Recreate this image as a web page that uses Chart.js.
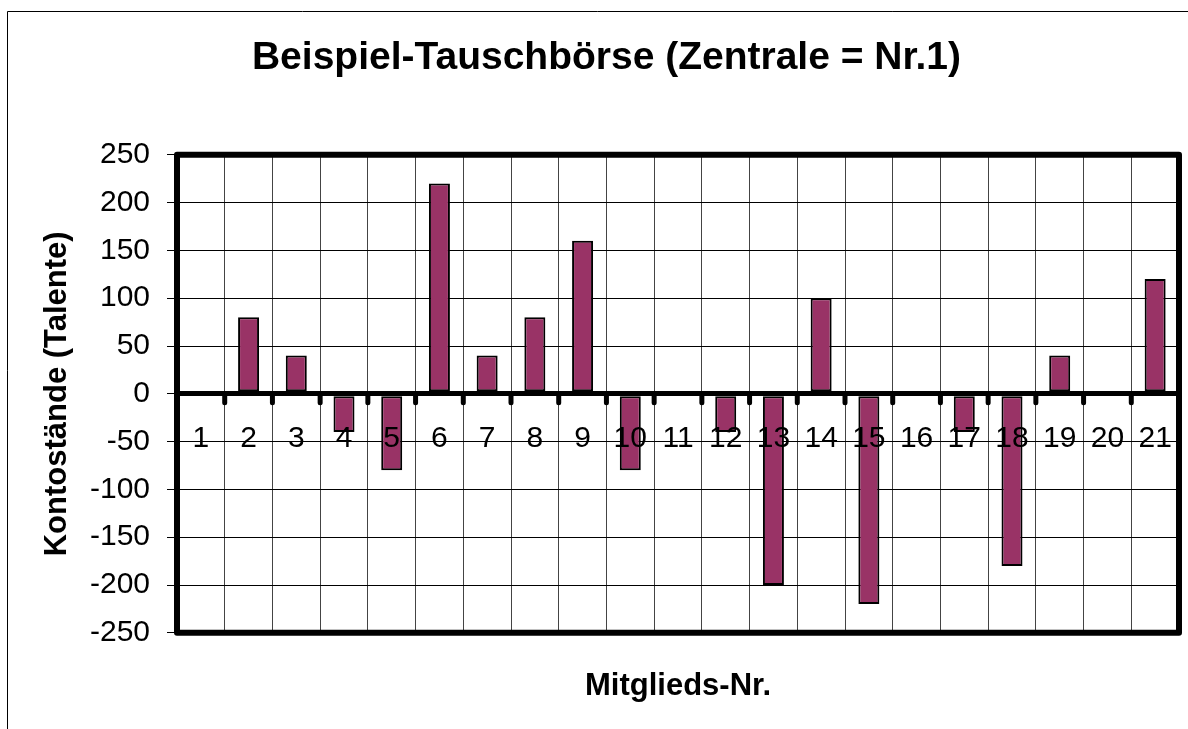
<!DOCTYPE html>
<html lang="de">
<head>
    <meta charset="UTF-8">
    <title>Beispiel-Tauschbörse</title>
    <script src="https://cdn.jsdelivr.net/npm/chart.js"></script>
    <style>
        body {
            margin: 0;
            background: #fff;
        }
        canvas {
            display: block;
        }
    </style>
</head>
<body>
    <canvas id="tauschChart" width="1188" height="729"></canvas>

    <script>
        // Daten
        const mitglieder = ["1", "2", "3", "4", "5", "6", "7", "8", "9", "10", "11",
                            "12", "13", "14", "15", "16", "17", "18", "19", "20", "21"];
        const kontostaende = [0, 80, 40, -40, -80, 220, 40, 80, 160, -80, 0,
                              -40, -200, 100, -220, 0, -40, -180, 40, 0, 120];
        const yMin = -250;
        const yMax = 250;
        const yStep = 50;

        const FONT = '"Liberation Sans", Arial, sans-serif';

        // Rahmen, Null-Achse mit Strichen und Beschriftung der Mitglieder
        const excelStil = {
            id: "excelStil",
            beforeDraw(chart) {
                const ctx = chart.ctx;
                ctx.save();
                ctx.strokeStyle = "#000";
                ctx.lineWidth = 1;
                ctx.beginPath();
                ctx.moveTo(7.5, chart.height);
                ctx.lineTo(7.5, 11.5);
                ctx.lineTo(chart.width, 11.5);
                ctx.stroke();
                ctx.restore();
            },
            afterDatasetsDraw(chart) {
                const { ctx, scales: { x, y } } = chart;
                const y0 = y.getPixelForValue(0);
                const halb = (x.getPixelForValue(1) - x.getPixelForValue(0)) / 2;
                ctx.save();
                ctx.strokeStyle = "#000";
                ctx.lineWidth = 5;
                ctx.lineCap = "round";
                for (let i = 1; i < mitglieder.length; i++) {
                    const xp = x.getPixelForValue(i) - halb;
                    ctx.beginPath();
                    ctx.moveTo(xp, y0);
                    ctx.lineTo(xp, y0 + 9);
                    ctx.stroke();
                }
                ctx.fillStyle = "#000";
                ctx.font = "30px " + FONT;
                ctx.textAlign = "center";
                ctx.textBaseline = "middle";
                mitglieder.forEach((m, i) => ctx.fillText(m, x.getPixelForValue(i), y0 + 45));
                ctx.restore();
            },
            afterDraw(chart) {
                const { ctx, chartArea: a } = chart;
                ctx.save();
                ctx.strokeStyle = "#000";
                ctx.lineWidth = 6;
                ctx.lineJoin = "round";
                ctx.strokeRect(a.left, a.top, a.right - a.left, a.bottom - a.top);
                ctx.restore();
            }
        };

        new Chart(document.getElementById("tauschChart"), {
            type: "bar",
            data: {
                labels: mitglieder,
                datasets: [{
                    label: "Kontostand",
                    data: kontostaende,
                    backgroundColor: "#993366",
                    borderColor: "#000",
                    borderWidth: 2,
                    borderSkipped: false,
                    barPercentage: 0.44,
                    categoryPercentage: 1
                }]
            },
            options: {
                responsive: false,
                animation: false,
                layout: { padding: { top: 0, right: 9, bottom: 0, left: 34 } },
                plugins: {
                    legend: { display: false },
                    tooltip: { enabled: false },
                    title: {
                        display: true,
                        text: "Beispiel-Tauschbörse (Zentrale = Nr.1)",
                        color: "#000",
                        font: { family: FONT, size: 39, weight: "bold" },
                        padding: { top: 35, bottom: 73 }
                    }
                },
                scales: {
                    x: {
                        grid: {
                            color: "#444",
                            lineWidth: 1,
                            drawTicks: false,
                            offset: true
                        },
                        border: { display: false },
                        ticks: { display: false },
                        title: {
                            display: true,
                            text: "Mitglieds-Nr.",
                            color: "#000",
                            font: { family: FONT, size: 31, weight: "bold" },
                            padding: { top: 35, bottom: 24 }
                        }
                    },
                    y: {
                        min: yMin,
                        max: yMax,
                        afterFit(scale) { scale.width = 143; },
                        grid: {
                            color: "#000",
                            lineWidth: ctx => (ctx.tick && ctx.tick.value === 0 ? 5 : 1),
                            tickLength: 10,
                            tickWidth: 1,
                            tickColor: "#000"
                        },
                        border: { display: false },
                        ticks: {
                            stepSize: yStep,
                            color: "#000",
                            padding: 17,
                            font: { family: FONT, size: 30 }
                        },
                        title: {
                            display: true,
                            text: "Kontostände (Talente)",
                            color: "#000",
                            font: { family: FONT, size: 31, weight: "bold" },
                            padding: { top: 5, bottom: 0 }
                        }
                    }
                }
            },
            plugins: [excelStil]
        });
    </script>
</body>
</html>
